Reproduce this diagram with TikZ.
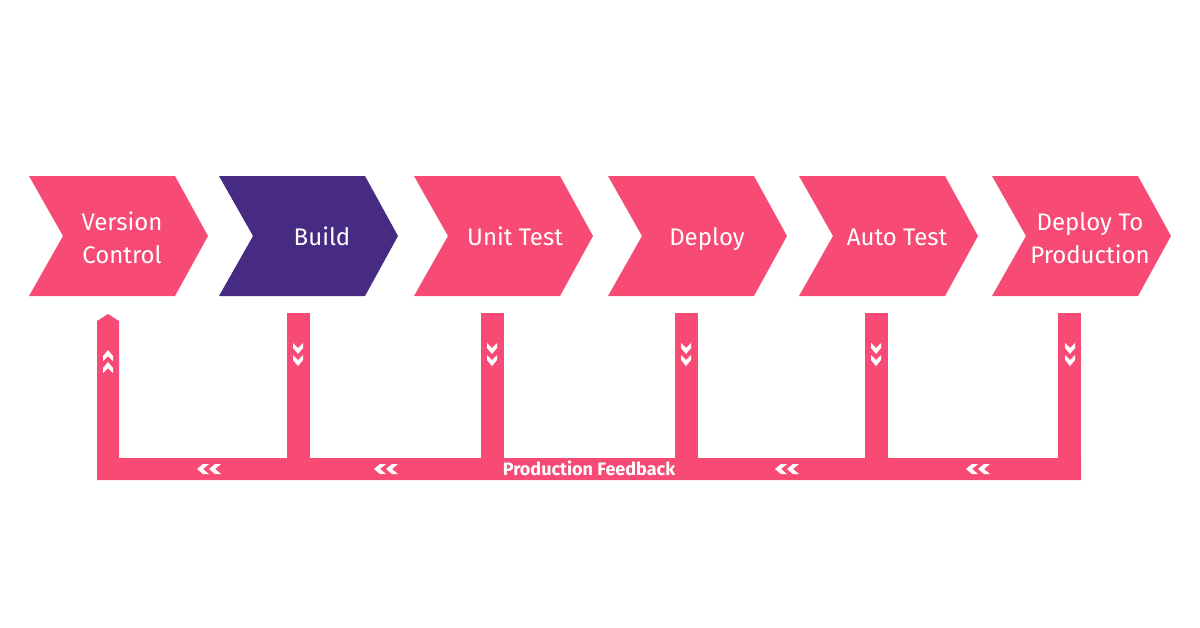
\documentclass[tikz,border=0pt]{standalone}
\usepackage{fontspec}
\setmainfont{Fira Sans}
\definecolor{pinkc}{HTML}{F74A74}
\definecolor{purplec}{HTML}{472A82}
\begin{document}
\begin{tikzpicture}[x=1pt,y=-1pt,
  lbl/.style={text=white,font=\fontsize{24}{33}\selectfont,align=center,inner sep=0pt},
  fb/.style={text=white,font=\fontsize{18}{20}\bfseries\selectfont,inner sep=0pt}]
\useasboundingbox[fill=white] (0,0) rectangle (1200,627);
% chevrons
\foreach \L/\c in {29/pinkc,219/purplec,414/pinkc,608/pinkc,799/pinkc,992/pinkc}{
  \fill[\c] (\L,176) -- (\L+146,176) -- (\L+179,236) -- (\L+146,296) -- (\L,296) -- (\L+34,236) -- cycle;
}
\node[lbl] (n1) at (122,238) {Version\\Control};
\node[lbl,anchor=base] (n2) at (322,245) {Build};
\node[lbl,anchor=base] (n3) at (515,245) {Unit Test};
\node[lbl,anchor=base] (n4) at (707,245) {Deploy};
\node[lbl,anchor=base] (n5) at (897,245) {Auto Test};
\node[lbl] (n6) at (1090,238) {Deploy To\\Production};
% feedback bars
\fill[pinkc] (97,480) -- (97,321) -- (108,314) -- (119,321) -- (119,458) -- (1081,458) -- (1081,480) -- cycle;
\foreach \x in {287,481,675,865,1058}{
  \fill[pinkc] (\x,313) rectangle (\x+23,459);
}
\fill[pinkc] (1058,313) rectangle (1081,480);
% down chevrons
\foreach \cx in {298,492,686,876,1070}{
  \foreach \y in {343,355}{
    \fill[white] (\cx-5,\y) -- (\cx,\y+5) -- (\cx+5,\y) -- (\cx+5,\y+5) -- (\cx,\y+11) -- (\cx-5,\y+5) -- cycle;
  }
}
% up chevrons
\foreach \y in {361,373}{
  \fill[white] (108-5,\y) -- (108,\y-5) -- (108+5,\y) -- (108+5,\y-5) -- (108,\y-11) -- (108-5,\y-5) -- cycle;
}
% left chevrons
\foreach \x in {197,374,775,966}{
  \foreach \dx in {0,12}{
    \fill[white] (\x+\dx,469) -- (\x+\dx+6,464) -- (\x+\dx+12,464) -- (\x+\dx+6,469) -- (\x+\dx+12,474) -- (\x+\dx+6,474) -- cycle;
  }
}
\node[fb] (fbk) at (589,468.5) {Production Feedback};
\end{tikzpicture}
\end{document}
